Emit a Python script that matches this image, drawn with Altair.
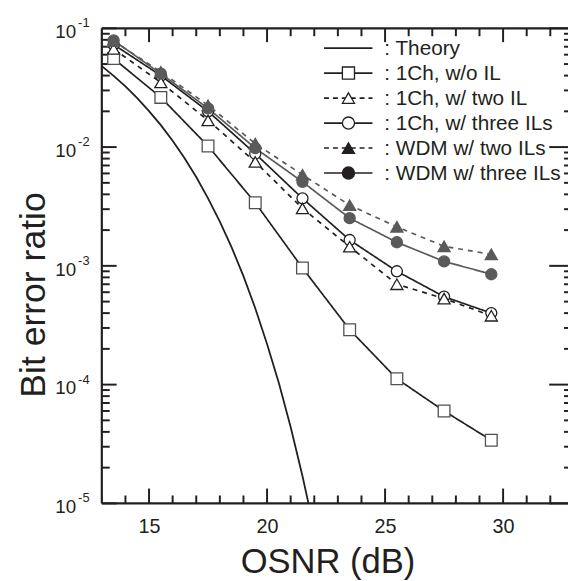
import altair as alt
import pandas as pd

# ---------------- data ----------------
osnr = [13.5, 15.5, 17.5, 19.5, 21.5, 23.5, 25.5, 27.5, 29.5]
ber_1ch_wo_il = [0.0556, 0.0262, 0.0102, 0.0034, 0.00096, 0.00029, 0.000112, 0.000060, 0.000034]
ber_1ch_two_il = [0.067, 0.035, 0.0168, 0.0075, 0.00305, 0.00145, 0.00070, 0.00053, 0.00038]
ber_1ch_three_il = [0.073, 0.040, 0.0200, 0.0088, 0.0037, 0.00165, 0.00090, 0.00055, 0.00040]
ber_wdm_two_il = [0.078, 0.043, 0.0225, 0.0107, 0.00585, 0.00324, 0.00213, 0.00146, 0.00125]
ber_wdm_three_il = [0.079, 0.0415, 0.0212, 0.0098, 0.0051, 0.00252, 0.00158, 0.00109, 0.00085]

theory_osnr = [13.0, 13.5, 14.0, 14.5, 15.0, 15.5, 16.0, 16.5, 17.0, 17.5, 18.0,
               18.5, 19.0, 19.5, 20.0, 20.5, 21.0, 21.5, 22.0]
theory_ber = [0.048, 0.0398, 0.0324, 0.0258, 0.0201, 0.0153, 0.0113, 0.0081, 0.0056,
              0.0037, 0.00236, 0.00143, 0.00082, 0.00044, 0.00022, 0.000103,
              0.000044, 0.000017, 0.000006]

legend_labels = [": Theory", ": 1Ch, w/o IL", ": 1Ch, w/ two IL", ": 1Ch, w/ three ILs",
                 ": WDM w/ two ILs", ": WDM w/ three ILs"]

x_major = [15, 20, 25, 30]
x_minor = [14, 16, 17, 18, 19, 21, 22, 23, 24, 26, 27, 28, 29, 31, 32]
y_major = [1e-1, 1e-2, 1e-3, 1e-4, 1e-5]
y_exp = ["-1", "-2", "-3", "-4", "-5"]
y_minor = [m * 10.0 ** e for e in range(-5, -1) for m in range(2, 10)]

# ---------------- layout / style ----------------
W, H = 472, 481
BLACK = "#231f20"
GREY = "#5a5a5a"
MGREY = "#505050"
FONT = "Liberation Sans"

xs = alt.Scale(domain=[13, 32.75], nice=False, zero=False)
ys = alt.Scale(type="log", domain=[1e-5, 1e-1], nice=False)
xaxis = alt.Axis(values=x_major, ticks=False, tickSize=0, domain=False, grid=False,
                 labelFontSize=20, labelColor=BLACK, labelFont=FONT, labelPadding=13,
                 title=None, labelFlush=False)


def X():
    return alt.X("x:Q", scale=xs, axis=xaxis)


def Y():
    return alt.Y("y:Q", scale=ys, axis=None)


one = alt.Data(values=[{"k": 0}])
layers = []

# frame (left, top, bottom; right edge is cut in the reference)
for enc in [dict(x=alt.value(0), y=alt.value(0), y2=alt.value(H)),
            dict(x=alt.value(0), x2=alt.value(W), y=alt.value(0)),
            dict(x=alt.value(0), x2=alt.value(W), y=alt.value(H))]:
    layers.append(alt.Chart(one).mark_rule(color=BLACK, strokeWidth=2.2).encode(**enc))

# inward ticks
ymaj_df = pd.DataFrame({"y": y_major, "e": y_exp})
ymin_df = pd.DataFrame({"y": y_minor})
xmaj_df = pd.DataFrame({"x": x_major})
xmin_df = pd.DataFrame({"x": x_minor})
tick = dict(color=BLACK, strokeWidth=2)
layers += [
    alt.Chart(ymaj_df).mark_rule(**tick).encode(y=Y(), x=alt.value(0), x2=alt.value(15)),
    alt.Chart(ymin_df).mark_rule(**tick).encode(y=Y(), x=alt.value(0), x2=alt.value(8)),
    alt.Chart(ymaj_df).mark_rule(**tick).encode(y=Y(), x=alt.value(W - 19), x2=alt.value(W)),
    alt.Chart(ymin_df).mark_rule(**tick).encode(y=Y(), x=alt.value(W - 4), x2=alt.value(W)),
    alt.Chart(xmaj_df).mark_rule(**tick).encode(x=X(), y=alt.value(H), y2=alt.value(H - 15)),
    alt.Chart(xmin_df).mark_rule(**tick).encode(x=X(), y=alt.value(H), y2=alt.value(H - 8)),
    alt.Chart(xmaj_df).mark_rule(**tick).encode(x=X(), y=alt.value(0), y2=alt.value(14)),
    alt.Chart(xmin_df).mark_rule(**tick).encode(x=X(), y=alt.value(0), y2=alt.value(8)),
]

# y tick labels 10^n
layers += [
    alt.Chart(ymaj_df).mark_text(text="10", align="right", baseline="middle", fontSize=19,
                                 dy=4, font=FONT, color=BLACK).encode(y=Y(), x=alt.value(-26)),
    alt.Chart(ymaj_df).mark_text(align="left", baseline="middle", fontSize=13, dy=-5,
                                 font=FONT, color=BLACK).encode(y=Y(), x=alt.value(-24), text="e:N"),
]

# axis titles
layers += [
    alt.Chart(one).mark_text(text="OSNR (dB)", align="center", baseline="alphabetic",
                             fontSize=35, font=FONT, color=BLACK)
    .encode(x=alt.value(229), y=alt.value(551)),
    alt.Chart(one).mark_text(text="Bit error ratio", align="center", baseline="alphabetic",
                             angle=270, fontSize=36, font=FONT, color=BLACK)
    .encode(x=alt.value(-58), y=alt.value(270)),
]

# theory curve
theory_df = pd.DataFrame({"x": theory_osnr, "y": theory_ber})
layers.append(alt.Chart(theory_df).mark_line(color=BLACK, strokeWidth=1.8, clip=True)
              .encode(x=X(), y=Y()))

series = [
    dict(v=ber_1ch_wo_il, line=BLACK, dash=[1, 0], shape="square", fill="white", stroke=MGREY, size=140),
    dict(v=ber_1ch_two_il, line=BLACK, dash=[5, 5], shape="triangle-up", fill="white", stroke=BLACK, size=150),
    dict(v=ber_1ch_three_il, line=BLACK, dash=[1, 0], shape="circle", fill="white", stroke=BLACK, size=125),
    dict(v=ber_wdm_two_il, line=GREY, dash=[5, 5], shape="triangle-up", fill=GREY, stroke=GREY, size=150),
    dict(v=ber_wdm_three_il, line=GREY, dash=[1, 0], shape="circle", fill=GREY, stroke=GREY, size=125),
]

for s in series:
    df = pd.DataFrame({"x": osnr, "y": s["v"]})
    layers.append(alt.Chart(df).mark_line(color=s["line"], strokeWidth=1.7, strokeDash=s["dash"])
                  .encode(x=X(), y=Y()))
marker_order = [0, 2, 1, 4, 3]
for i in marker_order:
    s = series[i]
    df = pd.DataFrame({"x": osnr, "y": s["v"]})
    layers.append(alt.Chart(df).mark_point(shape=s["shape"], size=s["size"], filled=True,
                                           fill=s["fill"], stroke=s["stroke"], strokeWidth=1.3,
                                           opacity=1, fillOpacity=1)
                  .encode(x=X(), y=Y()))

# legend (drawn by hand inside the plot)
leg_style = [
    dict(dash=[1, 0], shape=None, fill=None),
    dict(dash=[1, 0], shape="square", fill="white"),
    dict(dash=[5, 4], shape="triangle-up", fill="white"),
    dict(dash=[1, 0], shape="circle", fill="white"),
    dict(dash=[5, 4], shape="triangle-up", fill=BLACK),
    dict(dash=[1, 0], shape="circle", fill=BLACK),
]
for i, (lab, st) in enumerate(zip(legend_labels, leg_style)):
    yy = 20 + 25.3 * i
    layers.append(alt.Chart(one).mark_rule(color=BLACK, strokeWidth=1.7, strokeDash=st["dash"])
                  .encode(x=alt.value(225), x2=alt.value(274), y=alt.value(yy)))
    if st["shape"]:
        layers.append(alt.Chart(one).mark_point(shape=st["shape"], size=150, filled=True,
                                                fill=st["fill"], stroke=BLACK, strokeWidth=1.3,
                                                opacity=1)
                      .encode(x=alt.value(249.7), y=alt.value(yy)))
    layers.append(alt.Chart(one).mark_text(text=lab, align="left", baseline="middle", fontSize=21,
                                           font=FONT, color=BLACK)
                  .encode(x=alt.value(286), y=alt.value(yy + 1)))

chart = alt.layer(*layers).properties(
    width=W, height=H,
    autosize=alt.AutoSizeParams(type="none"),
    padding={"left": 95, "top": 17, "right": 0, "bottom": 74},
    background="white",
).configure_view(stroke=None)

chart.save("out.html", embed_options={"renderer": "svg", "actions": False})
